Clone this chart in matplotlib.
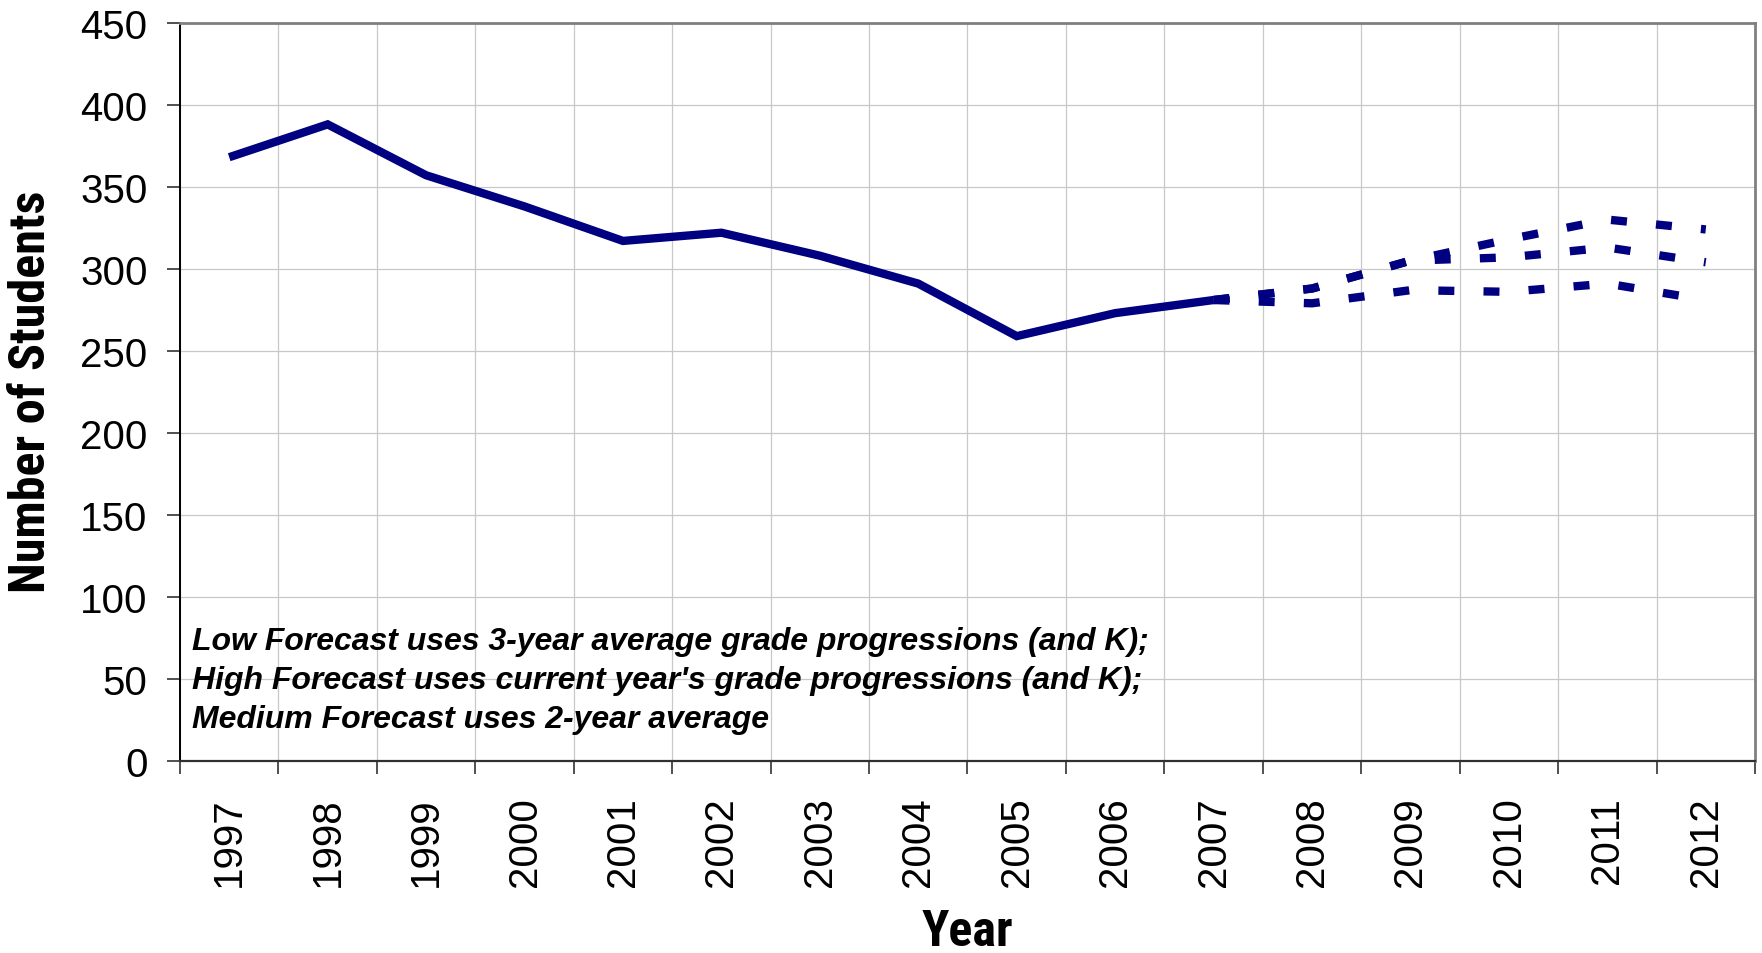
import matplotlib
matplotlib.use("Agg")
import matplotlib.pyplot as plt
from matplotlib import font_manager as fm
from matplotlib.ticker import FixedLocator, MultipleLocator

# Enrolment history and three forecast scenarios
years = [str(y) for y in range(1997, 2013)]
actual = [368, 388, 357, 338, 317, 322, 308, 291, 259, 273, 281]
high_forecast = [281, 288, 305, 318, 330, 324]
medium_forecast = [281, 288, 305, 307, 313, 304]
low_forecast = [281, 279, 287, 286, 291, 281]
y_ticks = list(range(0, 451, 50))
note_lines = [
    "Low Forecast uses 3-year average grade progressions (and K);",
    "High Forecast uses current year's grade progressions (and K);",
    "Medium Forecast uses 2-year average",
]


def condensed_bold():
    """Find an installed narrow/condensed bold sans face, if any."""
    weights = {"bold": 700, "semibold": 600, "demibold": 600, "extra bold": 800,
               "heavy": 800, "black": 900}
    prefer = ["Liberation Sans Narrow", "Arial Narrow", "Arimo", "Liberation",
              "Roboto", "Open Sans", "Noto Sans", "Lato", "Inter", "DejaVu"]
    found = []
    for f in fm.fontManager.ttflist:
        st = f.stretch
        cond = (isinstance(st, str) and "condensed" in st) or \
               (not isinstance(st, str) and st < 500)
        name_l = (f.name + " " + f.fname).lower()
        cond = cond or "narrow" in name_l or "condensed" in name_l
        wt = f.weight if isinstance(f.weight, int) else weights.get(f.weight, 400)
        if cond and wt >= 600 and f.style == "normal" and "cjk" not in name_l:
            rank = next((i for i, p in enumerate(prefer) if p.lower() in name_l), 99)
            found.append((rank, abs(wt - 700), f.fname))
    if found:
        found.sort()
        return fm.FontProperties(fname=found[0][2])
    return fm.FontProperties(family="Liberation Sans", weight="bold")


plt.rcParams["font.family"] = ["Liberation Sans", "DejaVu Sans"]
plt.rcParams["lines.scale_dashes"] = False

W, H = 1762, 954
fig = plt.figure(figsize=(W / 100, H / 100), dpi=100)
left, right, top, bottom = 180, 1755, 23.6, 762.3
ax = fig.add_axes([left / W, 1 - bottom / H, (right - left) / W, (bottom - top) / H])

navy = "#000080"
x_all = list(range(len(years)))
x_hist = x_all[:len(actual)]
x_fc = x_all[len(actual) - 1:]

for series in (low_forecast, medium_forecast, high_forecast):
    ax.plot(x_fc, series, color=navy, lw=6.0, linestyle=(0, (11.5, 21)),
            dash_capstyle="butt", dash_joinstyle="miter", zorder=3)
ax.plot(x_hist, actual, color=navy, lw=6.0, solid_capstyle="butt",
        solid_joinstyle="miter", zorder=4)

ax.set_xlim(-0.5, len(years) - 0.5)
ax.set_ylim(0, 450)

ax.xaxis.set_major_locator(FixedLocator(x_all))
ax.set_xticks(x_all)
ax.set_xticklabels(years)
ax.xaxis.set_minor_locator(MultipleLocator(1, offset=0.5))
ax.tick_params(axis="x", which="major", length=0, pad=25, labelrotation=90, labelsize=29)
ax.tick_params(axis="x", which="minor", length=9.4, width=1.1, color="#202020", direction="out")
ax.set_yticks(y_ticks)
ax.tick_params(axis="y", which="major", length=9.4, width=1.1, color="#202020",
               direction="out", pad=14, labelsize=29)

ax.grid(True, axis="y", color="#c8c8c8", lw=0.9, zorder=0)
ax.grid(True, axis="x", which="minor", color="#c8c8c8", lw=0.9, zorder=0)
ax.set_axisbelow(True)

ax.spines["left"].set_color("#000000")
ax.spines["left"].set_linewidth(1.4)
ax.spines["bottom"].set_color("#303030")
ax.spines["bottom"].set_linewidth(1.6)
for side in ("top", "right"):
    ax.spines[side].set_color("#808080")
    ax.spines[side].set_linewidth(2.0)

note_x = -0.5 + 12 / 98.4
for line, yb in zip(note_lines, (68.3, 44.4, 20.7)):
    ax.text(note_x, yb, line, fontsize=23, fontweight="bold", fontstyle="italic",
            va="baseline", ha="left", zorder=5)

# Axis titles in a narrow bold face, sized to their printed length
title_font = condensed_bold()
renderer = fig.canvas.get_renderer()


def fitted(text_obj, target_px, horizontal, max_size):
    text_obj.set_fontsize(max_size)
    bb = text_obj.get_window_extent(renderer=renderer)
    length = bb.width if horizontal else bb.height
    if length > target_px:
        text_obj.set_fontsize(max_size * target_px / length)


xl = fig.text(967.5 / W, 1 - 946 / H, "Year", ha="center", va="baseline",
              fontproperties=title_font)
fitted(xl, 92, True, 37)
yl = fig.text(32 / W, 1 - 392 / H, "Number of Students", rotation=90, ha="center",
              va="center", fontproperties=title_font)
fitted(yl, 402, False, 37)

fig.savefig("out.png", dpi=100)
